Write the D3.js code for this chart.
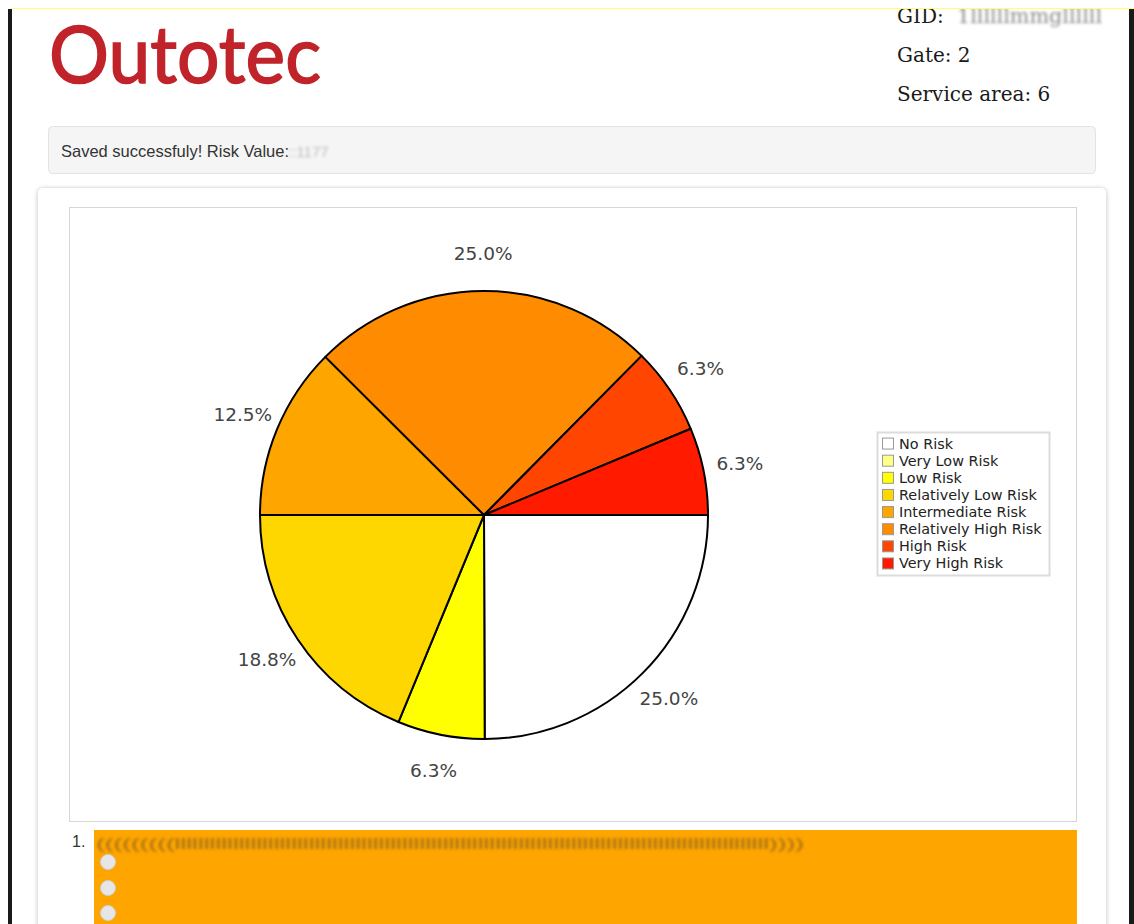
<!DOCTYPE html>
<html>
<head>
<meta charset="utf-8">
<script src="https://cdn.jsdelivr.net/npm/d3@7"></script>
<style>
  html, body { margin: 0; padding: 0; background: #fff; overflow: hidden; }
  svg { display: block; }
</style>
</head>
<body>
<svg id="page" width="1134" height="924"></svg>
<script>
// ---- data ----
const categories = ["No Risk", "Very Low Risk", "Low Risk", "Relatively Low Risk",
                    "Intermediate Risk", "Relatively High Risk", "High Risk", "Very High Risk"];
const shares = [25.0, 0, 6.3, 18.8, 12.5, 25.0, 6.3, 6.3];   // percent
const colors = ["#ffffff", "#ffff88", "#ffff00", "#ffd700",
                "#ffa500", "#ff8c00", "#ff4500", "#ff1a00"];
const headerLines = ["GID: ", "Gate: 2", "Service area: 6"];
const alertText = "Saved successfuly! Risk Value:";

const svg = d3.select("#page");
const defs = svg.append("defs");
defs.append("filter").attr("id", "blur").attr("x", "-10%").attr("y", "-50%").attr("width", "120%").attr("height", "200%")
  .append("feGaussianBlur").attr("stdDeviation", 1.6);
const sh = defs.append("filter").attr("id", "shadow").attr("x", "-5%").attr("y", "-5%").attr("width", "110%").attr("height", "110%");
sh.append("feDropShadow").attr("dx", 0).attr("dy", 1).attr("stdDeviation", 2).attr("flood-color", "#000").attr("flood-opacity", 0.18);
defs.append("clipPath").attr("id", "topclip").append("rect").attr("x", 0).attr("y", 9).attr("width", 1134).attr("height", 915);

// ---- page chrome ----
svg.append("line").attr("x1", 11).attr("x2", 1134).attr("y1", 8.5).attr("y2", 8.5)
  .attr("stroke", "#ffff70").attr("stroke-width", 1);
svg.append("rect").attr("x", 8).attr("y", 9).attr("width", 4).attr("height", 915).attr("fill", "#1a1a1a");
svg.append("rect").attr("x", 1129).attr("y", 9).attr("width", 5).attr("height", 915).attr("fill", "#1a1a1a");

// logo
svg.append("text").attr("x", 49).attr("y", 83)
  .attr("font-family", "Lato, 'Open Sans', sans-serif").attr("font-size", 80)
  .attr("fill", "#c1232b").attr("stroke", "#c1232b").attr("stroke-width", 1.6)
  .attr("textLength", 272).attr("lengthAdjust", "spacingAndGlyphs")
  .text("Outotec");

// header info
const hdr = svg.append("g").attr("clip-path", "url(#topclip)");
hdr.selectAll("text.h").data(headerLines).join("text").attr("class", "h")
  .attr("x", 897).attr("y", (d, i) => 23 + i * 39)
  .attr("font-family", "'DejaVu Serif', serif").attr("font-size", 20).attr("fill", "#1a1a1a")
  .text(d => d);
hdr.append("text").attr("x", 957).attr("y", 23).attr("font-family", "'DejaVu Serif', serif")
  .attr("font-size", 20).attr("fill", "#888").attr("filter", "url(#blur)")
  .attr("textLength", 145).attr("lengthAdjust", "spacingAndGlyphs").text("1llllllmmgllllll");

// alert box
svg.append("rect").attr("x", 48.5).attr("y", 126.5).attr("width", 1047).attr("height", 47).attr("rx", 4)
  .attr("fill", "#f5f5f5").attr("stroke", "#e3e3e3");
svg.append("text").attr("x", 61).attr("y", 157).attr("font-family", "'Liberation Sans', Arial, sans-serif")
  .attr("font-size", 16.5).attr("fill", "#333").text(alertText);
svg.append("text").attr("x", 288).attr("y", 157).attr("font-family", "'Liberation Sans', Arial, sans-serif")
  .attr("font-size", 15).attr("fill", "#bbb").attr("filter", "url(#blur)").text("::1177");

// card + chart frame
svg.append("rect").attr("x", 37.5).attr("y", 187.5).attr("width", 1069).attr("height", 760).attr("rx", 5)
  .attr("fill", "#fff").attr("stroke", "#e6e6e6").attr("filter", "url(#shadow)");
svg.append("rect").attr("x", 69.5).attr("y", 207.5).attr("width", 1007).attr("height", 614)
  .attr("fill", "#fff").attr("stroke", "#d6d6d6");

// ---- pie ----
const cx = 484, cy = 515, R = 224, LR = 261;
const rows = categories.map((c, i) => ({ name: c, value: shares[i], color: colors[i] }));
const pie = d3.pie().sort(null).value(d => d.value).startAngle(Math.PI / 2).endAngle(Math.PI / 2 + 2 * Math.PI);
const arcs = pie(rows).filter(a => a.data.value > 0);
const arc = d3.arc().innerRadius(0).outerRadius(R);
const labelArc = d3.arc().innerRadius(LR).outerRadius(LR);
const gp = svg.append("g").attr("transform", `translate(${cx},${cy})`);
gp.selectAll("path").data(arcs).join("path")
  .attr("d", arc).attr("fill", d => d.data.color)
  .attr("stroke", "#000").attr("stroke-width", 2).attr("stroke-linejoin", "round");
gp.selectAll("text").data(arcs).join("text")
  .attr("transform", d => `translate(${labelArc.centroid(d)})`)
  .attr("text-anchor", "middle").attr("dy", "0.33em")
  .attr("font-family", "'DejaVu Sans', Verdana, sans-serif").attr("font-size", 18.5).attr("fill", "#444")
  .text(d => d.data.value.toFixed(1) + "%");

// ---- legend ----
const lg = svg.append("g").attr("transform", "translate(877,432)");
lg.append("rect").attr("x", 0.5).attr("y", 0.5).attr("width", 172).attr("height", 143)
  .attr("fill", "#fff").attr("stroke", "#dcdcdc").attr("stroke-width", 2);
const ly = d3.scaleBand().domain(categories).range([3, 140]).paddingInner(0);
const li = lg.selectAll("g.item").data(rows).join("g").attr("class", "item")
  .attr("transform", d => `translate(0,${ly(d.name) + ly.bandwidth() / 2})`);
li.append("rect").attr("x", 5.5).attr("y", -5.5).attr("width", 11).attr("height", 11)
  .attr("fill", d => d.color).attr("stroke", "#999");
li.append("text").attr("x", 22).attr("y", 0).attr("dominant-baseline", "central")
  .attr("font-family", "'DejaVu Sans', Verdana, sans-serif").attr("font-size", 14.4).attr("fill", "#222")
  .text(d => d.name);

// ---- question block below ----
svg.append("text").attr("x", 72).attr("y", 847).attr("font-family", "'Liberation Sans', Arial, sans-serif")
  .attr("font-size", 16).attr("fill", "#333").text("1.");
svg.append("rect").attr("x", 94).attr("y", 830).attr("width", 983).attr("height", 94).attr("fill", "#ffa500");
svg.append("text").attr("x", 96).attr("y", 849).attr("font-family", "'Liberation Sans', Arial, sans-serif")
  .attr("font-size", 14).attr("fill", "#7a5a20").attr("opacity", 0.8).attr("filter", "url(#blur)")
  .attr("textLength", 708).attr("lengthAdjust", "spacingAndGlyphs")
  .text("(((((((((llllllllllllllllllllllllllllllllllllllllllllllllllllllllllllllllllllllllllllllllllllllllllllllllllllll))))");
svg.selectAll("circle.radio").data([862, 888, 913]).join("circle").attr("class", "radio")
  .attr("cx", 108).attr("cy", d => d).attr("r", 7.5).attr("fill", "#e6e6e6").attr("stroke", "#d0d0d0");
</script>
</body>
</html>
